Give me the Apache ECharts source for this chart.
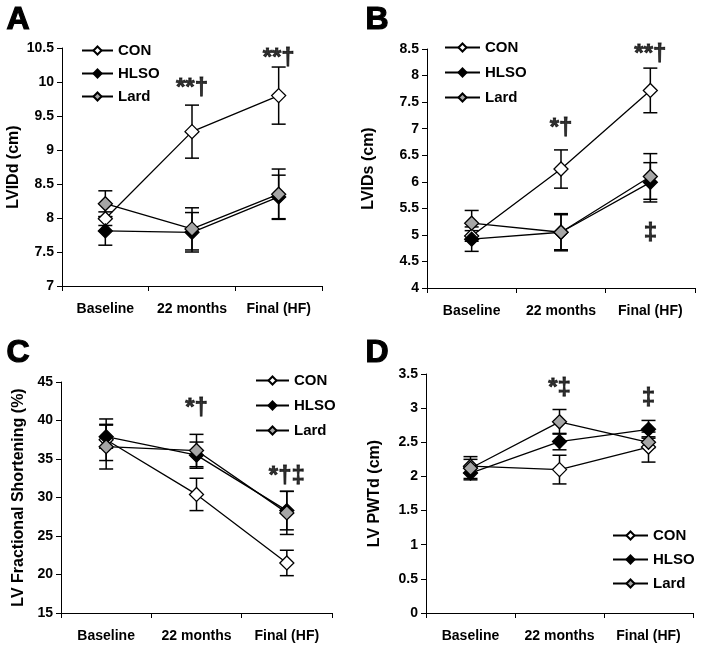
<!DOCTYPE html>
<html>
<head>
<meta charset="utf-8">
<script src="https://cdn.jsdelivr.net/npm/echarts@6/dist/echarts.min.js"></script>
<style>
html,body{margin:0;padding:0;background:#fff;}
#chart{width:701px;height:649px;}
</style>
</head>
<body>
<div id="chart"></div>
<script>
// ---- Data ----
const categories = ['Baseline', '22 months', 'Final (HF)'];
const seriesNames = ['CON', 'HLSO', 'Lard'];

// Panel A: LVIDd (cm)
const conA = [7.99, 9.27, 9.80];
const conAErr = [0.10, 0.39, 0.42];
const hlsoA = [7.81, 7.79, 8.31];
const hlsoAErr = [0.21, 0.29, 0.32];
const lardA = [8.21, 7.84, 8.35];
const lardAErr = [0.19, 0.31, 0.37];

// Panel B: LVIDs (cm)
const conB = [4.98, 6.24, 7.72];
const conBErr = [0.10, 0.36, 0.42];
const hlsoB = [4.92, 5.05, 5.99];
const hlsoBErr = [0.23, 0.35, 0.37];
const lardB = [5.22, 5.05, 6.10];
const lardBErr = [0.24, 0.33, 0.43];

// Panel C: LV Fractional Shortening (%)
const conC = [37.5, 30.4, 21.5];
const conCErr = [2.7, 2.1, 1.65];
const hlsoC = [37.9, 35.5, 28.3];
const hlsoCErr = [1.5, 1.7, 2.5];
const lardC = [36.6, 36.1, 28.0];
const lardCErr = [2.9, 2.1, 2.8];

// Panel D: LV PWTd (cm)
const conD = [2.15, 2.10, 2.43];
const conDErr = [0.10, 0.21, 0.22];
const hlsoD = [2.05, 2.51, 2.69];
const hlsoDErr = [0.08, 0.12, 0.13];
const lardD = [2.12, 2.80, 2.50];
const lardDErr = [0.17, 0.18, 0.08];

// Significance annotations: [category index, y value, text]
const annA = [[1, 9.91, '**†'], [2, 10.35, '**†']];
const annB = [[1, 7.01, '*†'], [2, 8.39, '**†'], [2, 5.03, '‡']];
const annC = [[1, 41.6, '*†'], [2, 32.75, '*†‡']];
const annD = [[1, 3.29, '*‡'], [2, 3.15, '‡']];

// Axis settings
const yNames = ['LVIDd (cm)', 'LVIDs (cm)', 'LV Fractional Shortening (%)', 'LV PWTd (cm)'];
const yMin = [7, 4, 15, 0];
const yMax = [10.5, 8.5, 45, 3.5];
const yStep = [0.5, 0.5, 5, 0.5];
const panelLetters = ['A', 'B', 'C', 'D'];

// ---- Build ----
const FONT = '"Liberation Sans", Arial, sans-serif';
const fills = ['#ffffff', '#000000', '#a6a6a6'];
const panels = [
  {means: [conA, hlsoA, lardA], errs: [conAErr, hlsoAErr, lardAErr], ann: annA},
  {means: [conB, hlsoB, lardB], errs: [conBErr, hlsoBErr, lardBErr], ann: annB},
  {means: [conC, hlsoC, lardC], errs: [conCErr, hlsoCErr, lardCErr], ann: annC},
  {means: [conD, hlsoD, lardD], errs: [conDErr, hlsoDErr, lardDErr], ann: annD}
];
const grids = [
  {left: 62, top: 48, width: 260, height: 238},
  {left: 427, top: 49, width: 268, height: 239},
  {left: 61, top: 382, width: 271, height: 231},
  {left: 426, top: 374, width: 267, height: 239}
];
const nameGaps = [40, 50, 34, 43];
const legends = [
  {left: 76, top: 38, itemGap: 8, itemWidth: 31},
  {left: 439, top: 35, itemGap: 10, itemWidth: 35},
  {left: 250, top: 368, itemGap: 10, itemWidth: 33},
  {left: 607, top: 523, itemGap: 9, itemWidth: 35}
];
const letterPos = [[6, 4], [365, 4], [6, 337], [365, 337]];

function fmtTick(v) { return String(Math.round(v * 100) / 100); }

const xAxes = [], yAxes = [], series = [], legendOpts = [], graphics = [];
panels.forEach((p, g) => {
  xAxes.push({
    type: 'category', gridIndex: g, data: categories, boundaryGap: true,
    axisLine: {lineStyle: {color: '#000', width: 1}},
    axisTick: {show: true, length: 5, lineStyle: {color: '#000'}},
    axisLabel: {color: '#000', fontFamily: FONT, fontWeight: 'bold', fontSize: 14, margin: 16, interval: 0}
  });
  yAxes.push({
    type: 'value', gridIndex: g, min: yMin[g], max: yMax[g], interval: yStep[g],
    name: yNames[g], nameLocation: 'middle', nameGap: nameGaps[g],
    nameTextStyle: {color: '#000', fontFamily: FONT, fontWeight: 'bold', fontSize: 16},
    axisLine: {show: true, lineStyle: {color: '#000', width: 1}},
    axisTick: {show: true, length: 5, lineStyle: {color: '#000'}},
    splitLine: {show: false},
    axisLabel: {color: '#000', fontFamily: FONT, fontWeight: 'bold', fontSize: 14, margin: 8, formatter: fmtTick}
  });
  // error bars
  p.means.forEach((m, s) => {
    const e = p.errs[s];
    series.push({
      type: 'custom', xAxisIndex: g, yAxisIndex: g, z: 1, silent: true,
      encode: {x: 0, y: [1, 2]},
      data: m.map((v, i) => [i, v - e[i], v + e[i]]),
      renderItem: function (params, api) {
        const lo = api.coord([api.value(0), api.value(1)]);
        const hi = api.coord([api.value(0), api.value(2)]);
        const w = 7;
        const st = {stroke: '#000', lineWidth: 1.5};
        return {type: 'group', children: [
          {type: 'line', shape: {x1: lo[0], y1: lo[1], x2: hi[0], y2: hi[1]}, style: st},
          {type: 'line', shape: {x1: lo[0] - w, y1: lo[1], x2: lo[0] + w, y2: lo[1]}, style: st},
          {type: 'line', shape: {x1: hi[0] - w, y1: hi[1], x2: hi[0] + w, y2: hi[1]}, style: st}
        ]};
      }
    });
  });
  // lines
  p.means.forEach((m, s) => {
    series.push({
      name: seriesNames[s], type: 'line', xAxisIndex: g, yAxisIndex: g, z: 3 + s,
      data: m, symbol: 'diamond', symbolSize: 14, showAllSymbol: true,
      lineStyle: {color: '#000', width: 1.3},
      itemStyle: {color: fills[s], borderColor: '#000', borderWidth: 1.3},
      emphasis: {disabled: true}
    });
  });
  // annotations
  series.push({
    type: 'scatter', xAxisIndex: g, yAxisIndex: g, z: 6, silent: true,
    symbolSize: 0, data: p.ann,
    encode: {x: 0, y: 1},
    label: {show: true, position: 'inside', color: '#000', fontFamily: FONT, fontWeight: 'bold', fontSize: 24,
      textBorderColor: '#000', textBorderWidth: 0.8,
      formatter: function (prm) { return prm.data[2]; }}
  });
  legendOpts.push(Object.assign({
    orient: 'vertical', data: seriesNames, itemHeight: 10,
    textStyle: {color: '#000', fontFamily: FONT, fontWeight: 'bold', fontSize: 15},
    selectedMode: false
  }, legends[g]));
  graphics.push({
    type: 'text', left: letterPos[g][0], top: letterPos[g][1],
    style: {text: panelLetters[g], fill: '#000', stroke: '#000', lineWidth: 1.2, font: 'bold 32px ' + FONT}
  });
});

const chart = echarts.init(document.getElementById('chart'), null, {renderer: 'canvas'});
chart.setOption({
  animation: false,
  backgroundColor: '#fff',
  grid: grids,
  xAxis: xAxes,
  yAxis: yAxes,
  legend: legendOpts,
  graphic: graphics,
  series: series
});
</script>
</body>
</html>
